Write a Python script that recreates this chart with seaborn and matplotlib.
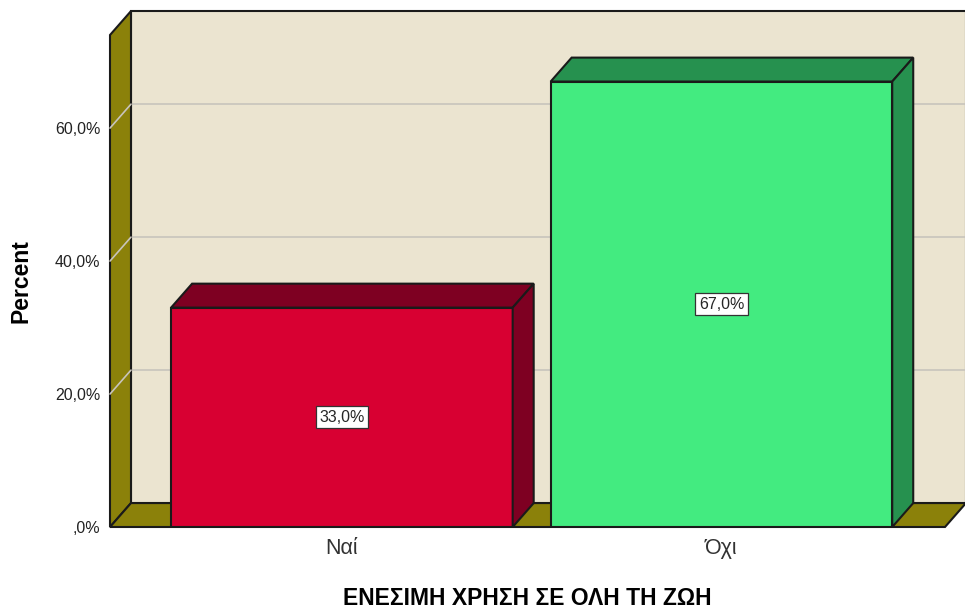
import matplotlib
matplotlib.use("Agg")
import matplotlib.pyplot as plt
from matplotlib.patches import Polygon
import seaborn as sns

# data
categories = ["Ναί", "Όχι"]
percents = [33.0, 67.0]
bar_labels = ["33,0%", "67,0%"]
yticks = [0, 20, 40, 60]
ytick_labels = [",0%", "20,0%", "40,0%", "60,0%"]

front_colors = ["#D80032", "#43EB80"]
dark_colors = ["#7E0022", "#26914F"]
wall = "#8B810A"
back = "#EBE4D0"
grid = "#C8C4BC"

sns.set_theme(style="white")
plt.rcParams["font.family"] = ["Liberation Sans", "DejaVu Sans"]

fig = plt.figure(figsize=(9.65, 6.1), dpi=100)
ax = fig.add_axes([110 / 965, 83 / 610, 835 / 965, 492 / 610])

x0, x1 = -0.611, 1.589
ymax = 74
dx, dy = 0.0553, 3.6  # depth offset in data units

df = {"cat": categories, "pct": percents}
sns.barplot(x="cat", y="pct", hue="cat", data=df, palette=front_colors, width=0.9,
            saturation=1, edgecolor="#1a1a1a", linewidth=1.5, legend=False, ax=ax, zorder=3)

ax.set_xlim(x0, x1)
ax.set_ylim(0, ymax)

# back wall, left wall, floor
ax.add_patch(Polygon([(x0 + dx, dy), (x1 + dx, dy), (x1 + dx, ymax + dy), (x0 + dx, ymax + dy)],
                     closed=True, fc=back, ec="#1a1a1a", lw=1.5, clip_on=False, zorder=0))
ax.add_patch(Polygon([(x0, 0), (x0 + dx, dy), (x0 + dx, ymax + dy), (x0, ymax)],
                     closed=True, fc=wall, ec="#1a1a1a", lw=1.5, clip_on=False, zorder=1))
ax.add_patch(Polygon([(x0, 0), (x1, 0), (x1 + dx, dy), (x0 + dx, dy)],
                     closed=True, fc=wall, ec="#1a1a1a", lw=1.5, clip_on=False, zorder=1))

for v in yticks[1:]:
    ax.plot([x0 + dx, x1 + dx], [v + dy, v + dy], color=grid, lw=1.2, clip_on=False, zorder=0.5)
    ax.plot([x0, x0 + dx], [v, v + dy], color=grid, lw=1.2, clip_on=False, zorder=1.5)

bars = [b for c in ax.containers for b in c if b.get_height() > 0]
for p, dc, lab in zip(bars, dark_colors, bar_labels):
    bx, bw, bh = p.get_x(), p.get_width(), p.get_height()
    ax.add_patch(Polygon([(bx, bh), (bx + bw, bh), (bx + bw + dx, bh + dy), (bx + dx, bh + dy)],
                         closed=True, fc=dc, ec="#1a1a1a", lw=1.5, clip_on=False, zorder=3))
    ax.add_patch(Polygon([(bx + bw, 0), (bx + bw + dx, dy), (bx + bw + dx, bh + dy), (bx + bw, bh)],
                         closed=True, fc=dc, ec="#1a1a1a", lw=1.5, clip_on=False, zorder=3))
    ax.text(bx + bw / 2, bh / 2, lab, ha="center", va="center", fontsize=11.5, zorder=5,
            bbox=dict(boxstyle="square,pad=0.22", fc="white", ec="#333333", lw=0.9))

for s in ax.spines.values():
    s.set_visible(False)
ax.set_yticks(yticks)
ax.set_yticklabels(ytick_labels, fontsize=11.5, color="#222222")
ax.tick_params(axis="y", length=0, pad=7)
ax.tick_params(axis="x", length=0, pad=8, labelsize=15.5, labelcolor="#333333")
ax.set_xlabel("ΕΝΕΣΙΜΗ ΧΡΗΣΗ ΣΕ ΟΛΗ ΤΗ ΖΩΗ", fontsize=16.5, fontweight="bold", color="black", labelpad=20)
ax.set_ylabel("Percent", fontsize=16.5, fontweight="bold", color="black", labelpad=16)

fig.savefig("out.png", dpi=100, facecolor="white")
